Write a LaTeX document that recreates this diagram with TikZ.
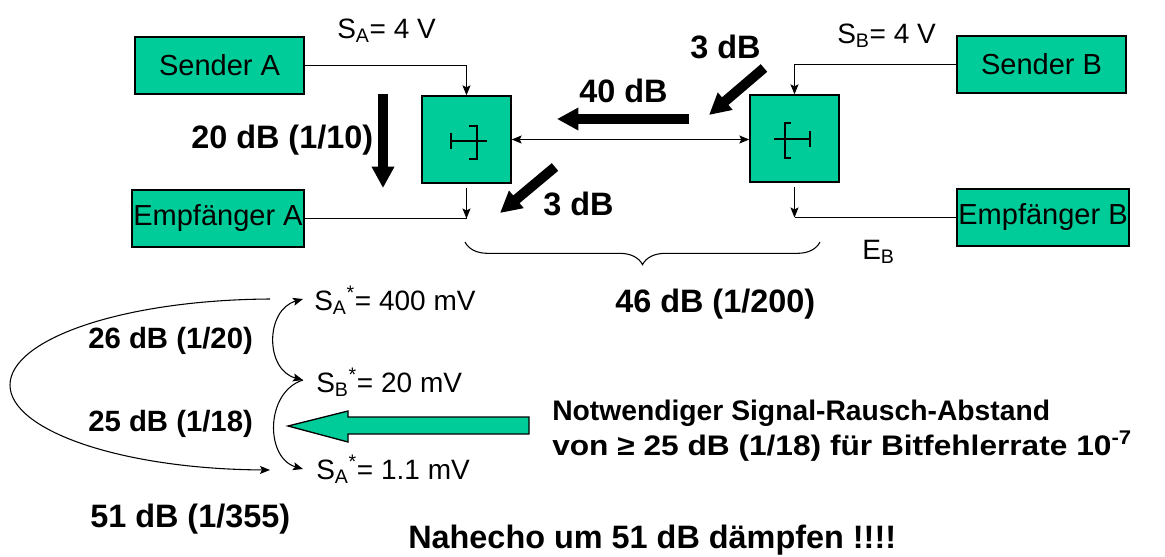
\documentclass[tikz,border=0pt]{standalone}
\usepackage{fontspec}
\setmainfont{Liberation Sans}
\usetikzlibrary{arrows.meta,decorations.pathreplacing}
\definecolor{boxgreen}{RGB}{0,204,153}
\begin{document}
\begin{tikzpicture}[x=0.75pt,y=-0.75pt,
  box/.style={draw=black, line width=1pt, fill=boxgreen, inner sep=0pt, font=\fontsize{21.75}{26}\selectfont},
  hyb/.style={draw=black, line width=1pt, fill=boxgreen, minimum width=66.75pt, minimum height=65.25pt, inner sep=0pt},
  conn/.style={line width=0.8pt},
  arr/.style={conn, -{Stealth[length=7.5pt,width=6pt,inset=1.5pt]}},
  dblarr/.style={conn, {Stealth[length=7.5pt,width=6pt,inset=1.5pt]}-{Stealth[length=7.5pt,width=6pt,inset=1.5pt]}},
  fat/.style={line width=7.5pt, -{Triangle[length=16pt,width=16pt]}},
  sym/.style={line width=1.4pt},
  lbl/.style={inner sep=0pt, anchor=base west, font=\fontsize{21}{25}\selectfont},
  blbl/.style={inner sep=0pt, anchor=base west, font=\fontsize{24.3}{29}\selectfont\bfseries},
  sblbl/.style={inner sep=0pt, anchor=base west, font=\fontsize{22}{26}\selectfont\bfseries},
  nlbl/.style={inner sep=0pt, anchor=base west, font=\fontsize{21.2}{25}\selectfont\bfseries}
]
\useasboundingbox (0,0) rectangle (1165,557);

% boxes
\node[box, minimum width=126.75pt, minimum height=42.75pt] (sa) at (219.5,65.5) {Sender A};
\node[box, minimum width=129pt, minimum height=42.75pt] (ea) at (218,218.5) {Empfänger A};
\node[box, minimum width=126.75pt, minimum height=42.75pt] (sb) at (1041.5,64.5) {Sender B};
\node[box, minimum width=129pt, minimum height=42.75pt] (eb) at (1043,217.5) {Empfänger B};
\node[hyb] (ha) at (466.5,139.5) {};
\node[hyb] (hb) at (794.5,138.5) {};

% hybrid symbols
\draw[sym] (451,141) -- (487,141);
\draw[sym] (451,133) -- (451,149);
\draw[sym] (469,126) -- (477,126) -- (477,159) -- (469,159);
\draw[sym] (774,139) -- (810,139);
\draw[sym] (810,131) -- (810,147);
\draw[sym] (791,123) -- (785,123) -- (785,158) -- (791,158);

% connectors
\draw[arr] (sa.east) -| (ha.north);
\draw[arr] (sb.west) -| (hb.north);
\coordinate (ja) at (ha.south |- ea.east);
\coordinate (jb) at (hb.south |- eb.west);
\draw[conn] (ea.east) -- (ja);
\draw[arr] ([yshift=-3pt]ha.south) -- (ja);
\draw[conn] (eb.west) -- (jb);
\draw[arr] ([yshift=-3pt]hb.south) -- (jb);
\draw[dblarr] (ha.east) -- (ha.east -| hb.west);

% thick arrows
\coordinate (f1a) at (383,94);  \coordinate (f1b) at (383,188);
\coordinate (f2a) at (689,119); \coordinate (f2b) at (557,119);
\coordinate (f3a) at (764,68);  \coordinate (f3b) at (709,115);
\coordinate (f4a) at (555,167); \coordinate (f4b) at (500,213);
\draw[fat] (f1a) -- (f1b);
\draw[fat] (f2a) -- (f2b);
\draw[fat] (f3a) -- (f3b);
\draw[fat] (f4a) -- (f4b);

% labels top
\node[lbl] (lsa) at (337,38) {S\textsubscript{A}= 4 V};
\node[lbl] (lsb) at (837,43) {S\textsubscript{B}= 4 V};
\node[lbl] (leb) at (862,259) {E\textsubscript{B}};
\node[blbl] (l3u) at (690,58) {3 dB};
\node[blbl] (l40) at (579,102) {40 dB};
\node[blbl] (l20) at (191,148) {20 dB (1/10)};
\node[blbl] (l3l) at (543,215) {3 dB};
\node[blbl] (l46) at (615,312) {46 dB (1/200)};

% brace
\draw[line width=0.8pt, decorate, decoration={brace, amplitude=17pt, mirror}] (465,242) -- (820,242);

% signal levels
\node[lbl] (s1) at (314,310) {S\textsubscript{A}\textsuperscript{*}= 400 mV};
\node[lbl] (s2) at (316,392) {S\textsubscript{B}\textsuperscript{*}= 20 mV};
\node[lbl] (s3) at (316,479) {S\textsubscript{A}\textsuperscript{*}= 1.1 mV};
\coordinate (p1) at (303,299);
\coordinate (p2) at (303,380);
\coordinate (p3) at (303,469);
\coordinate (q1) at (270,299);
\coordinate (q3) at (270,470);
\draw[dblarr] (p1) .. controls (265,310) and (265,370) .. (p2);
\draw[arr] (p2) .. controls (265,392) and (265,458) .. (p3);
\draw[arr] (q1) .. controls (120,300) and (10,340) .. (10,385) .. controls (10,430) and (120,469) .. (q3);

\node[sblbl] (l26) at (88,348) {26 dB (1/20)};
\node[sblbl] (l25) at (88,431) {25 dB (1/18)};
\node[blbl] (l51) at (90,527) {51 dB (1/355)};

% green arrow
\draw[line width=1pt, fill=boxgreen] (288,426) -- (348,411) -- (348,417) -- (529,417) -- (529,434) -- (348,434) -- (348,442) -- cycle;

\node[nlbl] (n1) at (552,420) {Notwendiger Signal-Rausch-Abstand};
\node[nlbl] (n2) at (552,455) {\scalebox{1.12}[1]{von ≥ 25 dB (1/18) für Bitfehlerrate 10\textsuperscript{-7}}};
\node[blbl] (nah) at (408,548) {Nahecho um 51 dB dämpfen !!!!};
\end{tikzpicture}
\end{document}
